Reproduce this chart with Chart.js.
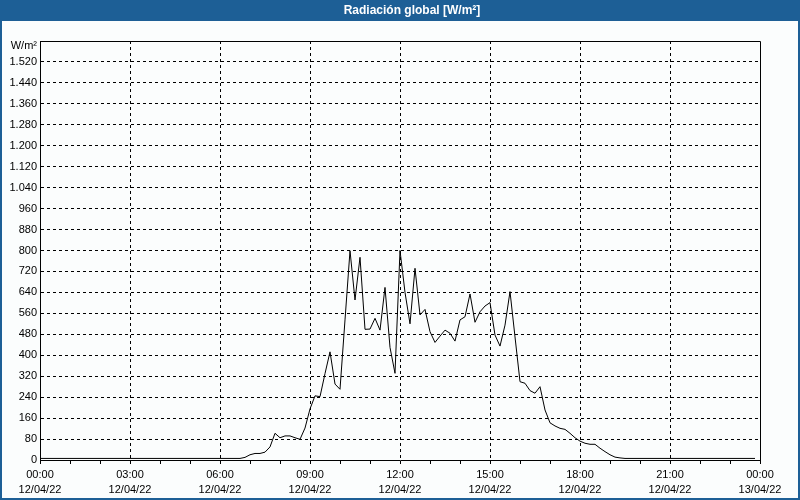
<!DOCTYPE html>
<html>
<head>
<meta charset="utf-8">
<script src="https://cdn.jsdelivr.net/npm/chart.js@4/dist/chart.umd.min.js"></script>
<style>
  html, body { margin: 0; padding: 0; background: #fbfdfd; }
  #wrap { width: 800px; height: 500px; position: relative; }
</style>
</head>
<body>
<div id="wrap"><canvas id="c" width="800" height="500"></canvas></div>
<script>
// ---- data ----
const chartTitle = 'Radiación global [W/m²]';
const unitLabel = 'W/m²';
const sampleStepMinutes = 10; // one reading every 10 minutes, starting 00:00
const radiation = [
  6, 6, 6, 6, 6, 6, 6, 6, 6, 6,      // 00:00 - 01:30
  6, 6, 6, 6, 6, 6, 6, 6, 6, 6,      // 01:40 - 03:10
  6, 6, 6, 6, 6, 6, 6, 6, 6, 6,      // 03:20 - 04:50
  6, 6, 6, 6, 6, 6, 6, 6, 6, 6,      // 05:00 - 06:30
  6, 10, 20, 25, 25, 30, 50, 102, 85, 92,   // 06:40 - 08:10
  92, 85, 79, 122, 195, 245, 242, 330, 413, 290, // 08:20 - 09:50
  270, 535, 799, 611, 774, 499, 500, 541, 496, 659, // 10:00 - 11:30
  430, 331, 800, 640, 520, 732, 554, 575, 490, 449, // 11:40 - 13:10
  473, 496, 484, 454, 535, 547, 634, 526, 566, 588, // 13:20 - 14:50
  601, 477, 435, 515, 643, 470, 299, 293, 265, 255, // 15:00 - 16:30
  280, 191, 142, 130, 121, 117, 102, 85, 72, 64,    // 16:40 - 18:10
  60, 60, 45, 32, 20, 11, 8, 6, 6, 6,               // 18:20 - 19:50
  6, 6, 6, 6, 6, 6, 6, 6, 6, 6,                     // 20:00 - 21:30
  6, 6, 6, 6, 6, 6, 6, 6, 6, 6,                     // 21:40 - 23:10
  6, 6, 6, 6                                        // 23:20 - 23:50
];
const xTickTimes = ['00:00', '03:00', '06:00', '09:00', '12:00', '15:00', '18:00', '21:00', '00:00'];
const xTickDates = ['12/04/22', '12/04/22', '12/04/22', '12/04/22', '12/04/22', '12/04/22', '12/04/22', '12/04/22', '13/04/22'];
const xLabelEveryMinutes = 180;
const xMinorTickMinutes = 60;
const xMaxMinutes = 1440;
const yMax = 1600;
const yStep = 80;

// ---- build points ----
const points = radiation.map((v, i) => ({ x: i * sampleStepMinutes, y: v }));

const FONT = "'Liberation Sans', Arial, sans-serif";
const BG = '#fbfdfd';
const BLUE = '#1d5f96';

function fmtThousands(v) {
  return String(v).replace(/\B(?=(\d{3})+(?!\d))/g, '.');
}

const framePlugin = {
  id: 'frame',
  beforeDraw(chart) {
    const ctx = chart.ctx;
    ctx.save();
    ctx.fillStyle = BG;
    ctx.fillRect(0, 0, chart.width, chart.height);
    ctx.fillStyle = BLUE;
    ctx.fillRect(0, 0, chart.width, 21);
    ctx.fillStyle = '#ffffff';
    ctx.font = "bold 12px " + FONT;
    ctx.textAlign = 'center';
    ctx.textBaseline = 'middle';
    ctx.fillText(chartTitle, 412, 11);
    ctx.restore();
  },
  afterDraw(chart) {
    const ctx = chart.ctx;
    const a = chart.chartArea;
    ctx.save();
    ctx.strokeStyle = '#000';
    ctx.lineWidth = 1;
    ctx.beginPath();
    ctx.moveTo(Math.round(a.left) + 0.5, Math.round(a.top) + 0.5);
    ctx.lineTo(Math.round(a.right) + 0.5, Math.round(a.top) + 0.5);
    ctx.lineTo(Math.round(a.right) + 0.5, Math.round(a.bottom) + 0.5);
    ctx.stroke();
    // unit label at the top of the value axis
    ctx.fillStyle = '#000';
    ctx.font = "11px " + FONT;
    ctx.textAlign = 'right';
    ctx.textBaseline = 'middle';
    ctx.fillText(unitLabel, a.left - 3, a.top + 5);
    // window border
    ctx.fillStyle = BLUE;
    ctx.fillRect(0, 21, 2, chart.height - 21);
    ctx.fillRect(chart.width - 2, 21, 2, chart.height - 21);
    ctx.fillRect(0, chart.height - 2, chart.width, 2);
    ctx.restore();
  }
};

new Chart(document.getElementById('c'), {
  type: 'line',
  data: {
    datasets: [{
      data: points,
      borderColor: '#000',
      borderWidth: 1,
      pointRadius: 0,
      tension: 0,
      fill: false
    }]
  },
  options: {
    responsive: false,
    animation: false,
    devicePixelRatio: 1,
    layout: { padding: { top: 41, right: 40, left: 0, bottom: 0 } },
    plugins: { legend: { display: false }, tooltip: { enabled: false } },
    scales: {
      x: {
        type: 'linear',
        min: 0,
        max: xMaxMinutes,
        afterFit(s) { s.height = 40; s.paddingLeft = 0; s.paddingRight = 0; },
        ticks: {
          stepSize: xMinorTickMinutes,
          autoSkip: false,
          maxRotation: 0,
          padding: 3,
          color: '#000',
          font: { family: FONT, size: 11, lineHeight: 15 / 11 },
          callback(v) {
            if (v % xLabelEveryMinutes !== 0) return '';
            const k = v / xLabelEveryMinutes;
            return [xTickTimes[k], xTickDates[k]];
          }
        },
        grid: {
          color(ctx) {
            const v = ctx.tick ? ctx.tick.value : null;
            return (v !== null && v % xLabelEveryMinutes === 0 && v !== 0 && v !== xMaxMinutes) ? '#000' : 'rgba(0,0,0,0)';
          },
          lineWidth: 1,
          tickColor: '#000',
          tickLength: 4,
          tickWidth: 1
        },
        border: { display: true, color: '#000', width: 1, dash: [3, 3] }
      },
      y: {
        min: 0,
        max: yMax,
        afterFit(s) { s.width = 40; s.paddingTop = 0; s.paddingBottom = 0; },
        ticks: {
          stepSize: yStep,
          autoSkip: false,
          padding: 3,
          color: '#000',
          font: { family: FONT, size: 11 },
          callback(v) { return v === yMax ? '' : fmtThousands(v); }
        },
        grid: {
          color(ctx) {
            const v = ctx.tick ? ctx.tick.value : null;
            return (v !== null && v !== 0 && v !== yMax) ? '#000' : 'rgba(0,0,0,0)';
          },
          lineWidth: 1,
          drawTicks: false
        },
        border: { display: true, color: '#000', width: 1, dash: [3, 3] }
      }
    }
  },
  plugins: [framePlugin]
});
</script>
</body>
</html>
